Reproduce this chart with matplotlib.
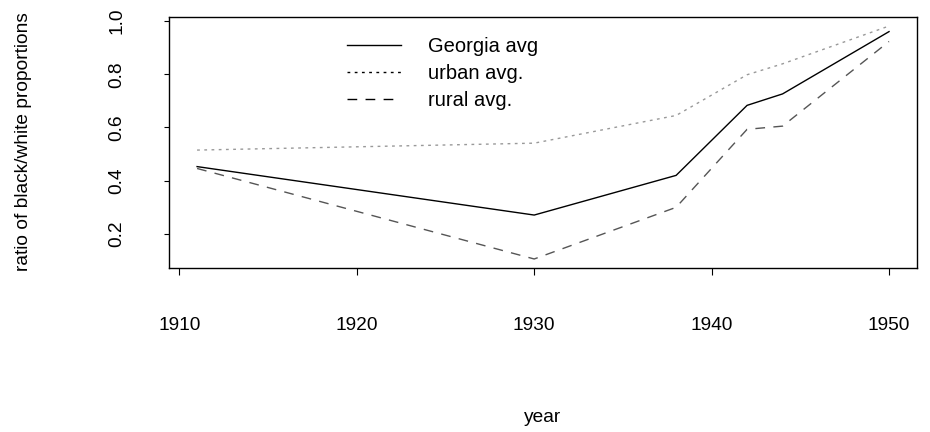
import matplotlib
matplotlib.use("Agg")
import matplotlib.pyplot as plt

plt.rcParams['font.family'] = ['Liberation Sans', 'DejaVu Sans']

years = [1911, 1930, 1938, 1942, 1944, 1950]
georgia = [0.453, 0.271, 0.42, 0.683, 0.726, 0.96]
urban = [0.515, 0.541, 0.645, 0.798, 0.839, 0.981]
rural = [0.446, 0.106, 0.30, 0.593, 0.605, 0.923]

xticks = [1910, 1920, 1930, 1940, 1950]
yticks = [0.2, 0.4, 0.6, 0.8, 1.0]

fs = 13.8
leg_fs = 14.5

fig = plt.figure(figsize=(9.3, 4.32), dpi=100)
ax = fig.add_axes([169.4 / 930, 1 - 268.3 / 432, (916.7 - 169.4) / 930, (268.3 - 16.7) / 432])

ax.plot(years, georgia, color='black', lw=1.0, label='Georgia avg')
ax.plot(years, urban, color='#999999', lw=1.0, linestyle=(0, (2, 3.2)), label='urban avg.')
ax.plot(years, rural, color='#555555', lw=1.0, linestyle=(0, (7, 6)), label='rural avg.')

# R style axis extension of 4%
xr = max(years) - min(years)
ax.set_xlim(min(years) - 0.04 * xr, max(years) + 0.04 * xr)
lo = min(georgia + urban + rural)
hi = max(georgia + urban + rural)
ax.set_ylim(lo - 0.04 * (hi - lo), hi + 0.04 * (hi - lo))

ax.set_xticks(xticks)
ax.set_xticklabels([str(x) for x in xticks])
ax.set_yticks(yticks)
ax.set_yticklabels(['%.1f' % y for y in yticks])
ax.tick_params(axis='x', length=6.5 * 0.72, width=0.8, pad=30.5, labelsize=fs)
ax.tick_params(axis='y', length=5 * 0.72, width=0.8, pad=28, labelsize=fs)
for lab in ax.get_yticklabels():
    lab.set_rotation(90)
    lab.set_va('center')
for s in ax.spines.values():
    s.set_linewidth(1.0)

leg_lines = [
    plt.Line2D([], [], color='black', lw=1.0),
    plt.Line2D([], [], color='black', lw=1.0, linestyle=(0, (2, 3.2))),
    plt.Line2D([], [], color='black', lw=1.0, linestyle=(0, (7, 6))),
]
ax.legend(leg_lines, ['Georgia avg', 'urban avg.', 'rural avg.'],
          loc='upper left', bbox_to_anchor=(347.3 / 930, 1 - 37.4 / 432),
          bbox_transform=fig.transFigure, frameon=False, fontsize=leg_fs,
          borderpad=0, borderaxespad=0, handlelength=2.67,
          handletextpad=1.36, labelspacing=0.39)

fig.text(543 / 930, 1 - 422 / 432, 'year', ha='center', va='baseline', fontsize=fs)
fig.text(24 / 930, 1 - 142 / 432, 'ratio of black/white proportions', rotation=90,
         ha='center', va='center', fontsize=fs)

fig.savefig('out.png', dpi=100)
